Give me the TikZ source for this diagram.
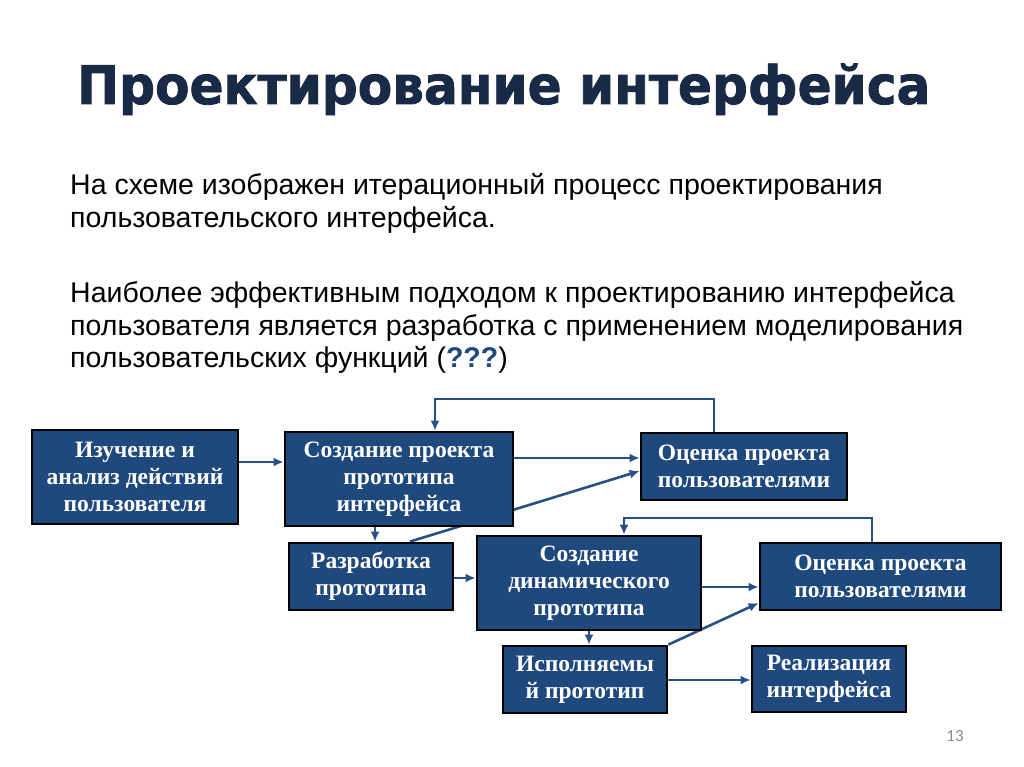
\documentclass[tikz,border=0pt]{standalone}
\usepackage{fontspec}
\usepackage{graphicx}
\setmainfont{Liberation Serif}
\newfontfamily\arialf{Liberation Sans}
\newfontfamily\titlef{DejaVu Sans Bold}[FakeBold=1.6]
\newfontfamily\numf{Carlito}
\usetikzlibrary{arrows.meta,backgrounds}
\definecolor{boxblue}{RGB}{31,73,125}
\definecolor{titleblue}{RGB}{24,42,70}
\definecolor{linkblue}{RGB}{40,80,135}
\definecolor{pagegray}{RGB}{140,140,140}
\tikzset{
  box/.style={draw=black, line width=2.8pt, fill=boxblue, text=white,
    font=\fontsize{23.5}{27}\selectfont\bfseries, align=center, inner sep=0pt},
  link/.style={draw=linkblue, line width=2.6pt, -{Latex[length=10pt,width=9pt]}},
  bodyline/.style={anchor=base west, inner sep=0pt, text=black,
    font=\arialf\fontsize{28.5}{33}\selectfont}
}
\begin{document}
\begin{tikzpicture}[x=1pt,y=-1pt]
\useasboundingbox (0,0) rectangle (1024,767);
% title
\node[anchor=base west, inner sep=0pt, text=titleblue] (title) at (77,104)
  {\resizebox{853pt}{\height}{\titlef\fontsize{53}{60}\selectfont Проектирование интерфейса}};
% body text
\node[bodyline] (p1a) at (70,195) {На схеме изображен итерационный процесс проектирования};
\node[bodyline] (p1b) at (70,228) {пользовательского интерфейса.};
\node[bodyline] (p2a) at (70,302) {Наиболее эффективным подходом к проектированию интерфейса};
\node[bodyline] (p2b) at (70,335) {пользователя является разработка с применением моделирования};
\node[bodyline] (p2c) at (70,367) {пользовательских функций (\textbf{\textcolor{boxblue}{???}})};
% boxes
\node[box, minimum width=206pt, minimum height=94pt] (b1) at (135,477) {Изучение и\\анализ действий\\пользователя};
\node[box, minimum width=228pt, minimum height=94pt] (b2) at (399,479) {Создание проекта\\прототипа\\интерфейса};
\node[box, minimum width=164pt, minimum height=67pt] (b3) at (371,576.5) {Разработка\\прототипа};
\node[box, minimum width=206pt, minimum height=67pt] (b4) at (744,466.5) {Оценка проекта\\пользователями};
\node[box, minimum width=224pt, minimum height=94pt] (b5) at (589,583) {Создание\\динамического\\прототипа};
\node[box, minimum width=241pt, minimum height=67pt] (b6) at (880.5,576.5) {Оценка проекта\\пользователями};
\node[box, minimum width=164pt, minimum height=67pt] (b7) at (585,679.5) {Исполняемы\\й прототип};
\node[box, minimum width=154pt, minimum height=66pt] (b8) at (829,679) {Реализация\\интерфейса};
% page number
\node[anchor=base, inner sep=0pt, text=pagegray, font=\numf\fontsize{17}{20}\selectfont] (pg) at (955,741) {13};
\begin{pgfonlayer}{background}
\fill[white] (0,0) rectangle (1024,767);
\draw[link] (b1.east |- 0,462) -- (b2.west |- 0,462);
\draw[link] (b2.east |- 0,458) -- (b4.west |- 0,458);
\draw[link] (b3.north -| 410,0) -- (b4.west |- 0,471);
\draw[link] (b4.north -| 714,0) -- (714,399) -| (b2.north -| 435,0);
\draw[link] (b2.south -| 375,0) -- (b3.north -| 375,0);
\draw[link] (b3.east |- 0,578) -- (b5.west |- 0,578);
\draw[link] (b5.east |- 0,587) -- (b6.west |- 0,587);
\draw[link] (b5.south -| 589,0) -- (b7.north -| 589,0);
\draw[link] (b7.north east) -- (b6.west |- 0,603);
\draw[link] (b7.east |- 0,680) -- (b8.west |- 0,680);
\draw[link] (b6.north -| 872,0) -- (872,518) -| (b5.north -| 624,0);
\end{pgfonlayer}
\end{tikzpicture}
\end{document}
